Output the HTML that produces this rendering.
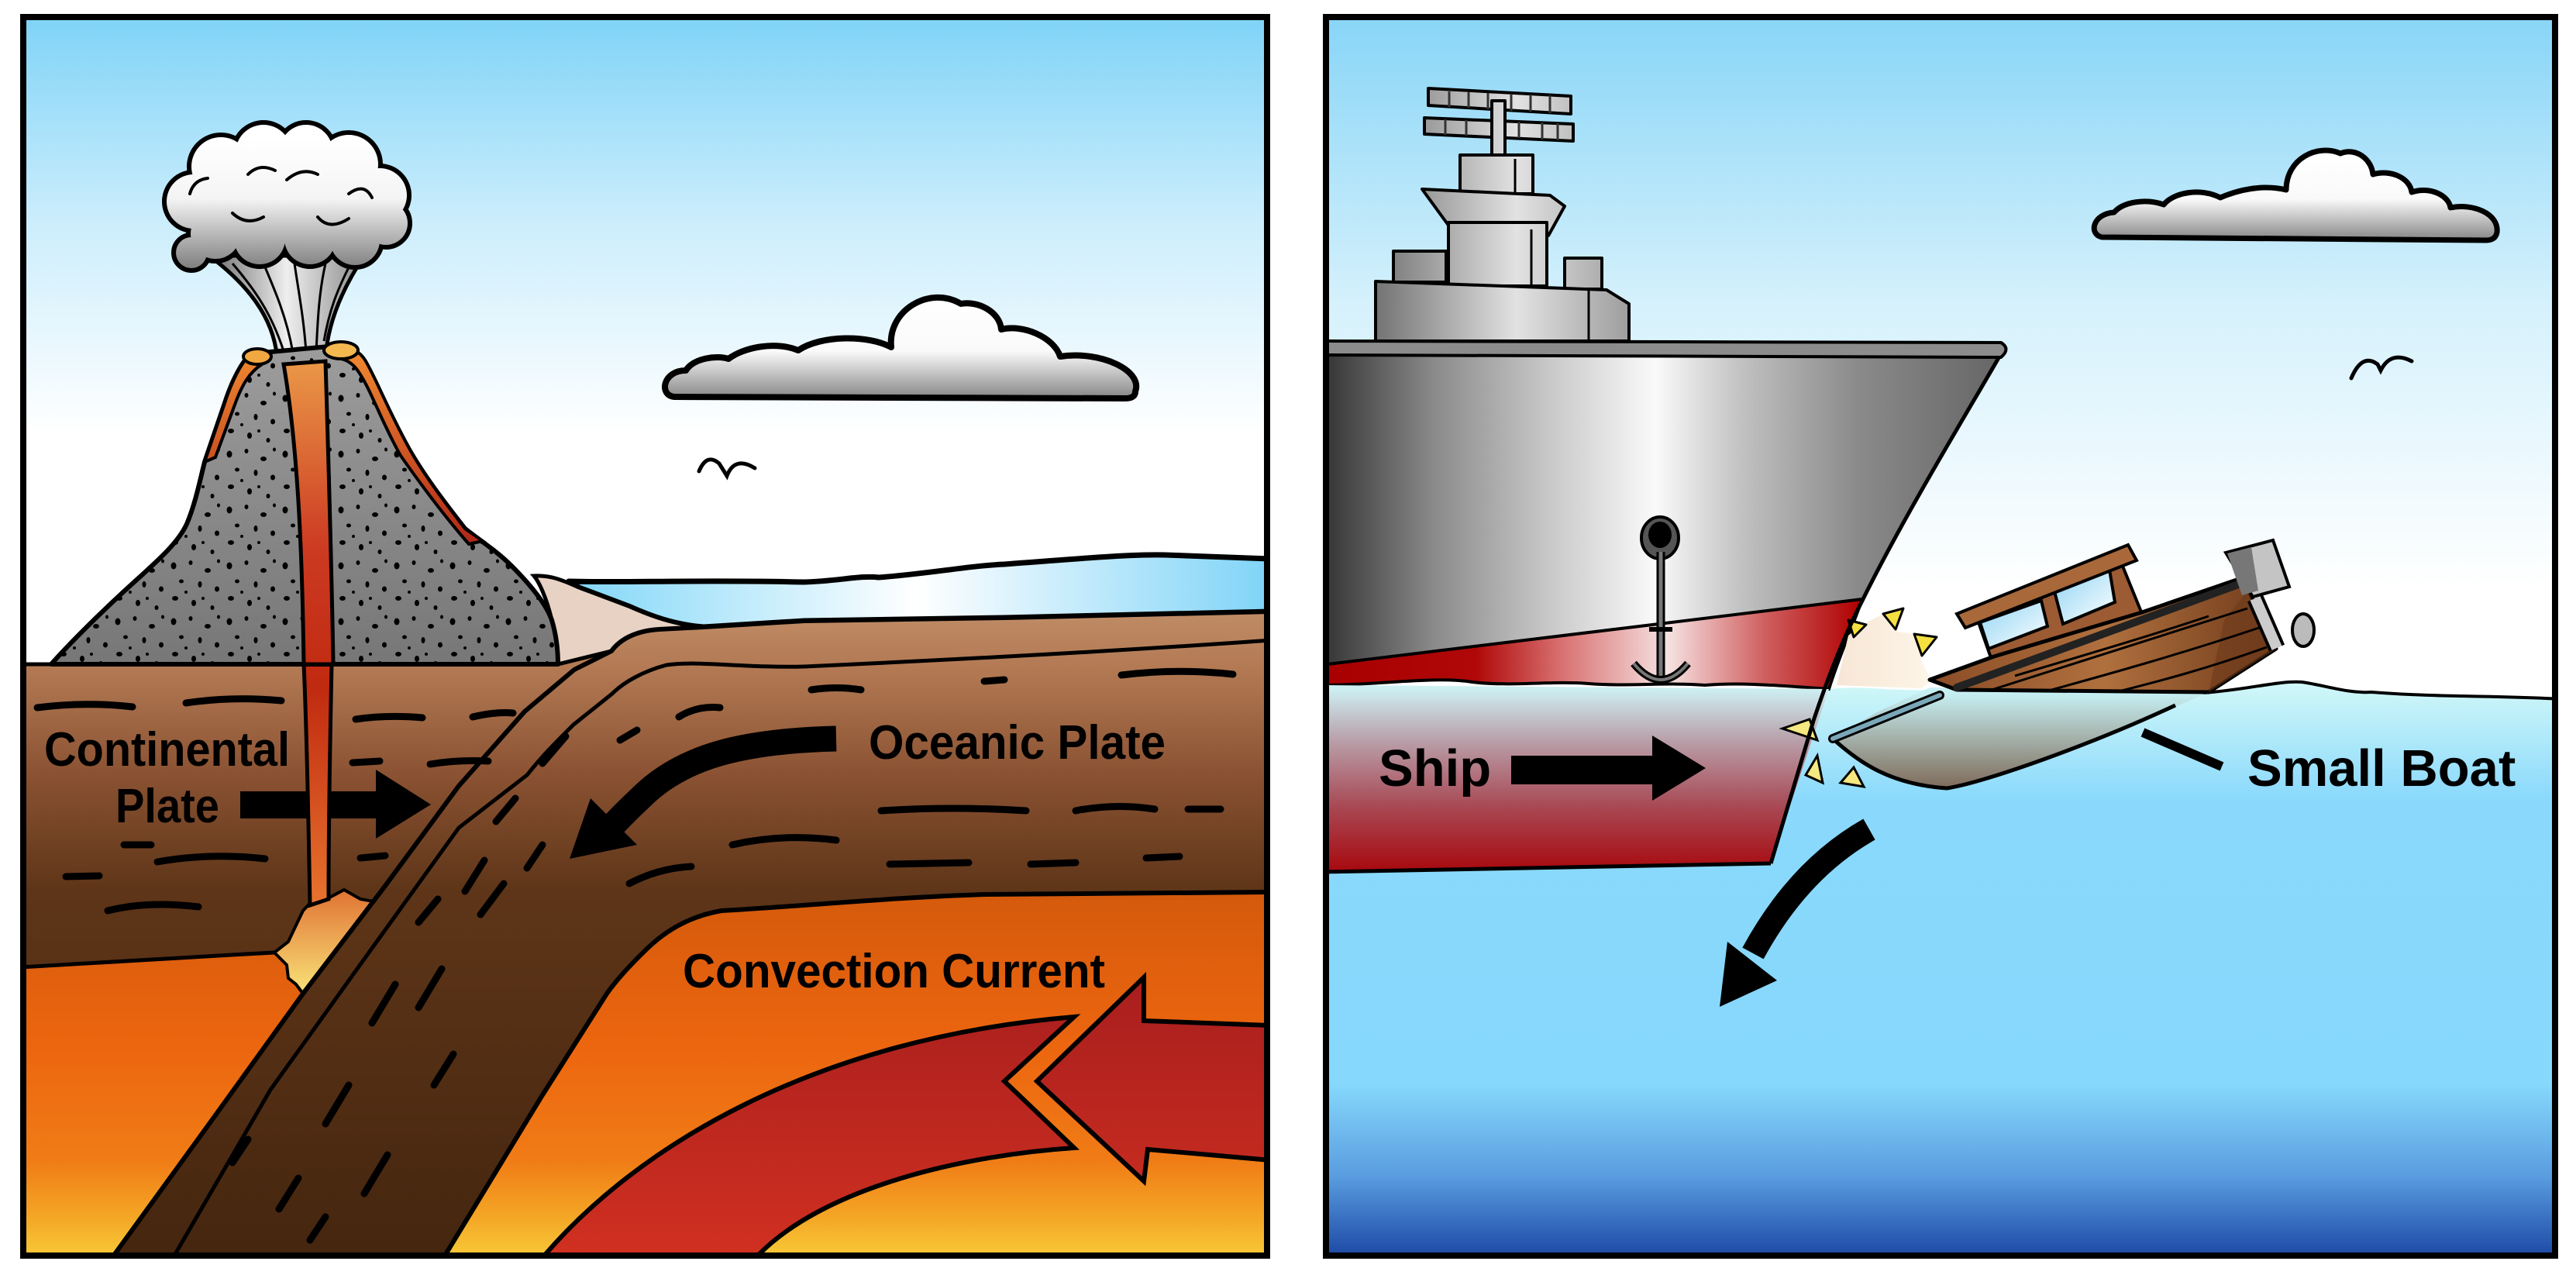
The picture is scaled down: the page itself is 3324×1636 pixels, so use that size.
<!DOCTYPE html>
<html><head><meta charset="utf-8"><style>
html,body{margin:0;padding:0;background:#fff;}
svg{display:block;}
text{font-family:"Liberation Sans",Arial,sans-serif;font-weight:bold;fill:#000;}
</style></head><body>
<svg width="3324" height="1636" viewBox="0 0 3324 1636" xmlns="http://www.w3.org/2000/svg">
<defs>
<clipPath id="cl"><rect x="30" y="22" width="1605" height="1598"/></clipPath>
<clipPath id="cr"><rect x="1711" y="22" width="1586" height="1598"/></clipPath>
<linearGradient id="skyL" gradientUnits="userSpaceOnUse" x1="0" y1="22" x2="0" y2="560"><stop offset="0" stop-color="#7fd3f7"/><stop offset="0.5" stop-color="#cdeefc"/><stop offset="1" stop-color="#fff"/></linearGradient>
<linearGradient id="skyR" gradientUnits="userSpaceOnUse" x1="0" y1="22" x2="0" y2="760"><stop offset="0" stop-color="#88d5f7"/><stop offset="0.5" stop-color="#d5f1fc"/><stop offset="1" stop-color="#fff"/></linearGradient>
<linearGradient id="mantle" gradientUnits="userSpaceOnUse" x1="0" y1="1150" x2="0" y2="1620"><stop offset="0" stop-color="#d45a0c"/><stop offset="0.42" stop-color="#ec650f"/><stop offset="0.74" stop-color="#f07c16"/><stop offset="0.9" stop-color="#f4a826"/><stop offset="1" stop-color="#f8c838"/></linearGradient>
<linearGradient id="crust" gradientUnits="userSpaceOnUse" x1="0" y1="790" x2="0" y2="1620"><stop offset="0" stop-color="#bf8c66"/><stop offset="0.085" stop-color="#b37a54"/><stop offset="0.253" stop-color="#8a5232"/><stop offset="0.434" stop-color="#5e3518"/><stop offset="1" stop-color="#45260f"/></linearGradient>
<linearGradient id="seaL" gradientUnits="userSpaceOnUse" x1="730" y1="0" x2="1635" y2="0"><stop offset="0" stop-color="#7fd6f8"/><stop offset="0.5" stop-color="#ffffff"/><stop offset="1" stop-color="#80d4f8"/></linearGradient>
<linearGradient id="cone" gradientUnits="userSpaceOnUse" x1="0" y1="450" x2="0" y2="857"><stop offset="0" stop-color="#9c9c9c"/><stop offset="1" stop-color="#777"/></linearGradient>
<linearGradient id="lava" gradientUnits="userSpaceOnUse" x1="0" y1="460" x2="0" y2="1170"><stop offset="0" stop-color="#eb9a48"/><stop offset="0.35" stop-color="#cc3a22"/><stop offset="0.6" stop-color="#c02a10"/><stop offset="1" stop-color="#e8742e"/></linearGradient>
<linearGradient id="flow" gradientUnits="userSpaceOnUse" x1="0" y1="450" x2="0" y2="700"><stop offset="0" stop-color="#f08a30"/><stop offset="1" stop-color="#b02818"/></linearGradient>
<linearGradient id="blob" gradientUnits="userSpaceOnUse" x1="0" y1="1150" x2="0" y2="1285"><stop offset="0" stop-color="#e07434"/><stop offset="1" stop-color="#fae67a"/></linearGradient>
<linearGradient id="plume" gradientUnits="userSpaceOnUse" x1="270" y1="0" x2="470" y2="0"><stop offset="0" stop-color="#6a6a6a"/><stop offset="0.5" stop-color="#eeeeee"/><stop offset="1" stop-color="#8a8a8a"/></linearGradient>
<linearGradient id="vcg" gradientUnits="userSpaceOnUse" x1="0" y1="180" x2="0" y2="350"><stop offset="0" stop-color="#fff"/><stop offset="0.45" stop-color="#f4f4f4"/><stop offset="1" stop-color="#7a7a7a"/></linearGradient>
<linearGradient id="cloudL" gradientUnits="userSpaceOnUse" x1="0" y1="380" x2="0" y2="512"><stop offset="0" stop-color="#fff"/><stop offset="0.55" stop-color="#fafafa"/><stop offset="1" stop-color="#8a8a8a"/></linearGradient>
<linearGradient id="cloudR" gradientUnits="userSpaceOnUse" x1="0" y1="194" x2="0" y2="308"><stop offset="0" stop-color="#fff"/><stop offset="0.55" stop-color="#fafafa"/><stop offset="1" stop-color="#8a8a8a"/></linearGradient>
<linearGradient id="conv" gradientUnits="userSpaceOnUse" x1="0" y1="1260" x2="0" y2="1620"><stop offset="0" stop-color="#a81e1e"/><stop offset="1" stop-color="#d03020"/></linearGradient>
<linearGradient id="water" gradientUnits="userSpaceOnUse" x1="0" y1="884" x2="0" y2="1620"><stop offset="0" stop-color="#d0f7f8"/><stop offset="0.2" stop-color="#8ad9fc"/><stop offset="0.7" stop-color="#86d8fc"/><stop offset="0.86" stop-color="#5a9de0"/><stop offset="1" stop-color="#1d4aa6"/></linearGradient>
<linearGradient id="hull" gradientUnits="userSpaceOnUse" x1="1711" y1="0" x2="2580" y2="0"><stop offset="0" stop-color="#363636"/><stop offset="0.16" stop-color="#8a8a8a"/><stop offset="0.33" stop-color="#c8c8c8"/><stop offset="0.49" stop-color="#fafafa"/><stop offset="0.62" stop-color="#c0c0c0"/><stop offset="0.79" stop-color="#8a8a8a"/><stop offset="1" stop-color="#666"/></linearGradient>
<linearGradient id="redband" gradientUnits="userSpaceOnUse" x1="1711" y1="0" x2="2400" y2="0"><stop offset="0" stop-color="#a80000"/><stop offset="0.28" stop-color="#b00808"/><stop offset="0.44" stop-color="#d87070"/><stop offset="0.64" stop-color="#f6e2e2"/><stop offset="0.82" stop-color="#d06060"/><stop offset="1" stop-color="#b00000"/></linearGradient>
<linearGradient id="under" gradientUnits="userSpaceOnUse" x1="0" y1="889" x2="0" y2="1120"><stop offset="0" stop-color="#cdeff2"/><stop offset="0.3" stop-color="#b89ca6"/><stop offset="0.65" stop-color="#a84a55"/><stop offset="1" stop-color="#a80c12"/></linearGradient>
<linearGradient id="sup" gradientUnits="userSpaceOnUse" x1="1770" y1="0" x2="2110" y2="0"><stop offset="0" stop-color="#707070"/><stop offset="0.55" stop-color="#e2e2e2"/><stop offset="1" stop-color="#9a9a9a"/></linearGradient>
<linearGradient id="wood" gradientUnits="userSpaceOnUse" x1="2490" y1="0" x2="2940" y2="0"><stop offset="0" stop-color="#8a4c26"/><stop offset="0.5" stop-color="#b0703e"/><stop offset="1" stop-color="#6e3a1a"/></linearGradient>
<linearGradient id="boatUnder" gradientUnits="userSpaceOnUse" x1="0" y1="895" x2="0" y2="1021"><stop offset="0" stop-color="#c5eef2"/><stop offset="1" stop-color="#7a5a42"/></linearGradient>
<linearGradient id="splash" gradientUnits="userSpaceOnUse" x1="2370" y1="0" x2="2500" y2="0"><stop offset="0" stop-color="#f7e6d6"/><stop offset="1" stop-color="#fdf6e8"/></linearGradient>
<linearGradient id="win" x1="0" y1="0" x2="1" y2="1"><stop offset="0" stop-color="#8fd4f4"/><stop offset="1" stop-color="#ffffff"/></linearGradient>
<pattern id="specks" width="72" height="72" patternUnits="userSpaceOnUse">
<ellipse cx="8" cy="10" rx="3.5" ry="4.5"/><ellipse cx="30" cy="6" rx="2.5" ry="3"/><ellipse cx="52" cy="16" rx="4" ry="3"/><ellipse cx="18" cy="30" rx="3" ry="2.5"/><ellipse cx="42" cy="34" rx="2.5" ry="4"/><ellipse cx="64" cy="40" rx="3" ry="3.5"/><ellipse cx="10" cy="52" rx="4" ry="3"/><ellipse cx="34" cy="58" rx="3" ry="4"/><ellipse cx="58" cy="64" rx="2.5" ry="3"/><ellipse cx="24" cy="44" rx="2" ry="2"/><ellipse cx="66" cy="4" rx="2" ry="2.5"/><ellipse cx="46" cy="52" rx="2" ry="2"/>
</pattern>
<g id="vcloud">
<circle cx="250" cy="260" r="35"/><circle cx="285" cy="215" r="38"/><circle cx="340" cy="197" r="36"/><circle cx="395" cy="195" r="34"/><circle cx="450" cy="212" r="38"/><circle cx="490" cy="252" r="35"/><circle cx="498" cy="288" r="28"/><circle cx="458" cy="310" r="32"/><circle cx="400" cy="308" r="33"/><circle cx="335" cy="308" r="33"/><circle cx="278" cy="302" r="32"/><circle cx="247" cy="326" r="20"/><circle cx="370" cy="250" r="55"/><circle cx="300" cy="260" r="45"/><circle cx="440" cy="260" r="45"/>
</g>
</defs>

<rect width="3324" height="1636" fill="#fff"/>

<!-- ================= LEFT PANEL ================= -->
<g clip-path="url(#cl)">
<rect x="30" y="22" width="1605" height="1598" fill="url(#skyL)"/>
<rect x="30" y="1100" width="1605" height="520" fill="url(#mantle)"/>

<path d="M734,750 C800,752 900,748 1038,751 C1080,750 1110,742 1134,745 C1200,740 1250,730 1296,728 C1380,722 1450,715 1503,716 L1640,721 L1640,789 L1296,797 L1038,801 L908,809 C870,806 840,795 811,782 L747,758 Z" fill="url(#seaL)" stroke="#000" stroke-width="7" stroke-linejoin="round"/>
<path d="M689,743 C710,742 725,748 747,758 L811,782 C840,795 870,806 908,809 L850,814 C820,820 800,830 789,840 L720,857 L712,800 C705,770 695,750 689,743 Z" fill="#e8d2c4" stroke="#000" stroke-width="5"/>

<path d="M25,857 L720,857 L789,840 L741,864 L677,918 L592,1014 L497,1143 L419,1245 L354,1229 L317,1231 L25,1248 Z" fill="url(#crust)"/>
<path d="M25,1248 L317,1231 L354,1229" fill="none" stroke="#000" stroke-width="5"/>
<path d="M25,857 L720,857 L789,840" fill="none" stroke="#000" stroke-width="5"/>

<path d="M391,1175 L405,1160 L425,1158 L444,1148 L465,1160 L487,1164 L470,1190 L455,1207 L420,1250 L391,1282 L382,1270 L372,1262 L370,1245 L354,1229 L372,1215 L380,1198 Z" fill="url(#blob)" stroke="#000" stroke-width="4"/>

<path d="M789,840 C800,825 820,814 850,812 L908,809 L1038,801 L1296,797 L1640,789 L1640,1151 L1270,1154 C1150,1158 1050,1168 931,1175 C890,1182 860,1200 836,1223 C810,1248 795,1265 783,1282 L698,1416 L571,1625 L143,1625 L275,1443 L391,1282 L497,1143 L592,1014 L677,918 L741,864 Z" fill="url(#crust)" stroke="#000" stroke-width="6" stroke-linejoin="round"/>
<path d="M1640,826 C1500,836 1300,848 1038,860 C960,862 900,852 860,858 C830,866 805,880 790,895 L740,935 C715,960 700,975 680,1000 L592,1068 L476,1229 L349,1406 L222,1625" fill="none" stroke="#000" stroke-width="5"/>

<g fill="none" stroke="#000" stroke-width="9" stroke-linecap="round">
<path d="M48,913 Q110,905 171,912"/><path d="M240,907 Q300,898 363,904"/><path d="M459,928 Q500,922 545,926"/><path d="M555,986 Q590,980 630,982"/><path d="M610,925 Q640,918 662,920"/><path d="M85,1131 L128,1130"/><path d="M203,1112 Q270,1100 342,1108"/><path d="M139,1175 Q190,1162 256,1170"/><path d="M465,1107 L497,1104"/><path d="M160,1090 L195,1090"/><path d="M455,984 L490,982"/>
<path d="M1047,890 Q1080,885 1111,890"/><path d="M1270,879 L1296,877"/><path d="M1447,871 Q1520,862 1591,870"/><path d="M876,925 Q900,910 929,913"/><path d="M800,955 L822,942"/><path d="M1137,1046 Q1230,1040 1324,1046"/><path d="M1388,1046 Q1440,1036 1490,1044"/><path d="M1533,1044 L1575,1044"/><path d="M945,1090 Q1010,1075 1079,1084"/><path d="M1148,1115 L1250,1113"/><path d="M1330,1115 L1388,1113"/><path d="M1479,1107 L1522,1105"/><path d="M812,1140 Q850,1120 892,1118"/>
<path d="M640,1060 L665,1030"/><path d="M600,1150 L625,1110"/><path d="M700,985 L730,950"/><path d="M540,1190 L565,1160"/><path d="M480,1320 L510,1270"/><path d="M420,1450 L450,1400"/><path d="M540,1300 L570,1250"/><path d="M620,1180 L650,1140"/><path d="M360,1560 L385,1520"/><path d="M470,1540 L500,1490"/><path d="M300,1500 L320,1470"/><path d="M680,1120 L700,1090"/><path d="M560,1400 L585,1360"/><path d="M400,1600 L420,1570"/>
</g>

<!-- convection arrow -->
<path d="M698,1625 C820,1480 1050,1340 1386,1312 L1296,1395 L1386,1481 C1250,1490 1060,1530 973,1625 Z" fill="url(#conv)" stroke="#000" stroke-width="6" stroke-linejoin="miter"/>
<path d="M1338,1395 L1476,1261 L1476,1317 L1640,1323 L1640,1497 L1481,1483 L1476,1524 Z" fill="url(#conv)" stroke="#000" stroke-width="6" stroke-linejoin="miter"/>

<rect x="310" y="1021" width="177" height="35" fill="#000"/>
<path d="M485,993 L556,1038 L485,1082 Z" fill="#000"/>

<path d="M392,857 L428,857 C426,950 424,1060 424,1160 L400,1168 C398,1060 396,950 392,857 Z" fill="url(#lava)" stroke="#000" stroke-width="5"/>

<path d="M1079,953 C960,956 880,975 826,1030 C810,1045 800,1055 790,1066" fill="none" stroke="#000" stroke-width="33"/>
<path d="M735,1108 L762,1030 L822,1090 Z" fill="#000"/>

<!-- volcano -->
<path d="M358,468 C356,420 330,375 270,330 L470,330 C440,375 422,420 420,464 Z" fill="url(#plume)" stroke="#000" stroke-width="5"/>
<g fill="none" stroke="#000" stroke-width="3">
<path d="M300,340 C330,375 350,405 365,450"/><path d="M340,340 C355,375 370,410 378,455"/><path d="M380,340 C385,375 392,410 395,455"/><path d="M420,340 C412,375 410,410 408,455"/><path d="M450,345 C435,375 425,400 418,440"/>
</g>
<use href="#vcloud" fill="#000" stroke="#000" stroke-width="12"/>
<use href="#vcloud" fill="url(#vcg)" stroke="none"/>
<g fill="none" stroke="#000" stroke-width="4" stroke-linecap="round">
<path d="M245,250 Q250,232 268,230"/><path d="M320,225 Q335,210 355,220"/><path d="M370,232 Q390,215 410,225"/><path d="M450,250 Q470,235 480,255"/><path d="M300,275 Q318,292 340,280"/><path d="M410,280 Q425,298 450,282"/>
</g>
<path d="M66,857 C90,830 130,790 172,752 C205,722 230,700 241,676 C252,650 258,620 264,596 L290,520 C298,495 310,470 322,458 L338,455 L425,447 C445,445 462,452 470,465 C485,490 500,530 528,580 C548,615 575,650 600,682 C620,698 640,710 660,730 C685,755 705,780 712,800 C718,820 720,840 720,857 Z" fill="url(#cone)"/>
<path d="M66,857 C90,830 130,790 172,752 C205,722 230,700 241,676 C252,650 258,620 264,596 L290,520 C298,495 310,470 322,458 L338,455 L425,447 C445,445 462,452 470,465 C485,490 500,530 528,580 C548,615 575,650 600,682 C620,698 640,710 660,730 C685,755 705,780 712,800 C718,820 720,840 720,857 Z" fill="url(#specks)" stroke="#000" stroke-width="6" stroke-linejoin="round"/>
<path d="M322,458 C310,470 298,495 290,520 L264,596 L278,590 L303,522 C312,497 322,480 338,470 Z" fill="url(#flow)" stroke="#000" stroke-width="4"/>
<path d="M430,448 C450,446 464,452 472,466 C487,492 502,532 530,582 C550,617 577,652 600,682 L623,698 L605,702 C575,668 548,632 517,588 C490,540 478,500 460,476 C452,466 442,462 432,462 Z" fill="url(#flow)" stroke="#000" stroke-width="4"/>
<ellipse cx="332" cy="460" rx="18" ry="10" fill="#f2a840" stroke="#000" stroke-width="4"/>
<ellipse cx="440" cy="452" rx="22" ry="11" fill="#f4b850" stroke="#000" stroke-width="4"/>
<path d="M366,470 L420,466 C424,600 428,730 430,857 L392,857 C390,720 385,580 366,470 Z" fill="url(#lava)" stroke="#000" stroke-width="5"/>

<text x="57" y="988" font-size="62" textLength="317" lengthAdjust="spacingAndGlyphs">Continental</text>
<text x="149" y="1061" font-size="62" textLength="134" lengthAdjust="spacingAndGlyphs">Plate</text>
<text x="1121" y="979" font-size="62" textLength="383" lengthAdjust="spacingAndGlyphs">Oceanic Plate</text>
<text x="881" y="1274" font-size="62" textLength="545" lengthAdjust="spacingAndGlyphs">Convection Current</text>

<path d="M870,512 C850,510 855,478 885,478 C895,462 925,458 940,463 C960,448 1000,440 1030,452 C1060,432 1120,432 1150,448 C1145,400 1200,368 1240,392 C1262,388 1290,402 1292,425 C1320,418 1360,435 1368,460 C1420,452 1475,478 1465,505 Q1465,514 1452,514 Z" fill="url(#cloudL)" stroke="#000" stroke-width="8" stroke-linejoin="round"/>
<path d="M902,608 Q912,584 928,598 L938,614 Q948,588 974,604" fill="none" stroke="#000" stroke-width="5" stroke-linecap="round"/>
</g>
<rect x="30" y="22" width="1605" height="1598" fill="none" stroke="#000" stroke-width="8"/>

<!-- ================= RIGHT PANEL ================= -->
<g clip-path="url(#cr)">
<rect x="1711" y="22" width="1586" height="1598" fill="url(#skyR)"/>
<path d="M2712,306 C2695,302 2700,276 2728,274 C2740,260 2770,256 2792,264 C2805,248 2840,242 2865,255 C2900,240 2930,240 2950,245 C2950,205 2990,185 3020,198 C3040,190 3060,205 3062,225 C3085,218 3110,230 3112,248 C3135,240 3160,252 3162,268 C3190,262 3225,275 3222,300 Q3220,310 3208,310 Z" fill="url(#cloudR)" stroke="#000" stroke-width="7" stroke-linejoin="round"/>
<path d="M3034,488 Q3048,455 3068,470 L3072,478 Q3085,452 3112,466" fill="none" stroke="#000" stroke-width="5" stroke-linecap="round"/>

<path d="M1705,884 L2360,889 C2400,884 2440,892 2490,890 L2842,894 C2900,890 2940,878 2970,880 C3000,884 3030,895 3060,893 C3150,900 3220,897 3305,902 L3305,1625 L1705,1625 Z" fill="url(#water)"/>
<path d="M2842,894 C2900,890 2940,878 2970,880 C3000,884 3030,895 3060,893 C3150,900 3220,897 3305,902" fill="none" stroke="#000" stroke-width="4"/>

<g stroke="#000" stroke-width="4" fill="url(#sup)" stroke-linejoin="round">
<path d="M1843,114 L2027,124 L2027,147 L1843,136 Z"/>
<path d="M1838,152 L2030,160 L2030,182 L1838,173 Z"/>
<rect x="1925" y="130" width="17" height="72"/>
<rect x="1884" y="200" width="94" height="50"/>
<path d="M1835,244 L2000,252 L2019,266 L1998,304 L1870,292 Z"/>
<rect x="1869" y="287" width="127" height="82"/>
<rect x="1798" y="324" width="68" height="40"/>
<rect x="2019" y="333" width="48" height="40"/>
<path d="M1775,363 L2073,374 L2102,392 L2102,440 L1775,440 Z"/>
</g>
<g stroke="#333" stroke-width="3">
<path d="M1870,118 L1870,138 M1895,119 L1895,139 M1920,120 L1920,141 M1950,121 L1950,143 M1975,122 L1975,144 M2000,123 L2000,146"/>
<path d="M1865,154 L1865,174 M1892,155 L1892,175 M1960,157 L1960,178 M1990,158 L1990,180 M2010,159 L2010,181"/>
</g>
<path d="M1955,205 L1955,249 M1976,296 L1976,369 M2050,373 L2050,440" stroke="#000" stroke-width="3" fill="none"/>

<path d="M1705,452 L2580,456 C2560,500 2510,580 2486,620 C2450,690 2420,740 2403,773 L1705,858 Z" fill="url(#hull)"/>
<path d="M1705,858 L2403,773 C2390,810 2372,850 2360,889 C2300,885 2250,880 2200,884 C2150,880 2100,886 2050,882 C2000,878 1950,886 1900,880 C1850,872 1780,884 1705,884 Z" fill="url(#redband)" stroke="#000" stroke-width="4"/>
<path d="M1705,884 L2360,889 L2285,1114 L1705,1125 Z" fill="url(#under)"/>
<path d="M1705,1125 L2285,1114" stroke="#000" stroke-width="5" fill="none"/>

<!-- splash -->
<path d="M2370,884 L2385,820 L2405,805 L2430,792 L2456,785 L2448,815 L2470,818 L2499,822 L2478,850 L2492,878 L2480,888 Z" fill="url(#splash)"/>
<path d="M2430,792 L2456,785 L2446,812 Z M2470,818 L2499,822 L2480,846 Z M2385,800 L2408,806 L2392,822 Z" fill="#f4e040" stroke="#000" stroke-width="3" stroke-linejoin="round"/>
<path d="M2300,940 L2335,928 L2345,955 Z M2330,1000 L2345,975 L2352,1010 Z M2375,1010 L2392,990 L2405,1015 Z" fill="#f4e880" stroke="#000" stroke-width="3"/>

<path d="M2584,453 C2540,530 2460,660 2403,775 C2380,820 2360,870 2340,930 L2285,1114" fill="none" stroke="#000" stroke-width="5"/>
<path d="M1705,440 L2582,442 Q2595,450 2582,461 L1705,458 Z" fill="#8c8c8c" stroke="#000" stroke-width="4"/>

<!-- anchor -->
<ellipse cx="2142" cy="694" rx="24" ry="27" fill="#555" stroke="#000" stroke-width="4"/>
<ellipse cx="2142" cy="690" rx="15" ry="17" fill="#000"/>
<path d="M2143,712 L2143,878" stroke="#000" stroke-width="11" fill="none"/>
<path d="M2143,712 L2143,878" stroke="#777" stroke-width="5" fill="none"/>
<path d="M2108,856 Q2143,898 2178,856" fill="none" stroke="#000" stroke-width="10"/>
<path d="M2108,856 Q2143,898 2178,856" fill="none" stroke="#777" stroke-width="4"/>
<path d="M2128,812 L2158,812" stroke="#000" stroke-width="6"/>

<!-- small boat -->
<path d="M2365,953 C2400,985 2440,1012 2512,1017 C2560,1010 2700,960 2850,893 L2490,887 L2420,920 Z" fill="url(#boatUnder)" opacity="0.9"/>
<path d="M2365,953 C2400,985 2440,1012 2512,1017 C2560,1010 2700,960 2807,910" fill="none" stroke="#000" stroke-width="5"/>
<path d="M2365,953 L2503,897" stroke="#000" stroke-width="12" stroke-linecap="round"/>
<path d="M2365,953 L2503,897" stroke="#7aa8b8" stroke-width="6" stroke-linecap="round"/>

<path d="M2553,803 L2738,728 L2764,792 L2573,860 Z" fill="#9c5b33" stroke="#000" stroke-width="4"/>
<path d="M2555,803 L2634,775 L2642,808 L2566,837 Z" fill="url(#win)" stroke="#000" stroke-width="4"/>
<path d="M2651,763 L2722,735 L2729,777 L2662,805 Z" fill="url(#win)" stroke="#000" stroke-width="4"/>
<path d="M2525,792 L2746,703 L2757,723 L2536,810 Z" fill="#a8683a" stroke="#000" stroke-width="4"/>
<path d="M2490,877 L2573,847 L2764,790 L2889,747 L2902,763 L2937,837 L2850,893 L2525,890 Z" fill="url(#wood)" stroke="#000" stroke-width="5" stroke-linejoin="round"/>
<path d="M2900,762 L2937,837 L2850,893 L2870,800 Z" fill="#6e3a1a" opacity="0.6"/>
<path d="M2525,887 L2902,749" stroke="#222" stroke-width="10" stroke-linecap="round"/>
<g fill="none" stroke="#000" stroke-width="3">
<path d="M2570,890 C2650,865 2760,830 2900,785"/><path d="M2640,892 C2720,870 2810,845 2915,810"/><path d="M2730,893 C2790,878 2850,862 2925,835"/><path d="M2600,872 C2680,848 2760,825 2850,795"/>
</g>
<path d="M2872,713 L2933,697 L2954,757 L2907,770 Z" fill="#c4c4c4" stroke="#000" stroke-width="4"/>
<path d="M2874,714 L2905,706 L2914,762 L2893,768 Z" fill="#777"/>
<path d="M2910,772 L2938,836" stroke="#000" stroke-width="22"/>
<path d="M2910,772 L2938,836" stroke="#ccc" stroke-width="14"/>
<ellipse cx="2972" cy="813" rx="14" ry="21" fill="#bbb" stroke="#000" stroke-width="4"/>

<text x="1779" y="1014" font-size="67">Ship</text>
<rect x="1950" y="975" width="184" height="37" fill="#000"/>
<path d="M2132,949 L2201,991 L2132,1033 Z" fill="#000"/>
<text x="2900" y="1014" font-size="67">Small Boat</text>
<path d="M2765,945 L2867,989" stroke="#000" stroke-width="12"/>
<path d="M2412,1070 C2350,1105 2300,1160 2262,1230" fill="none" stroke="#000" stroke-width="31"/>
<path d="M2219,1299 L2229,1215 L2293,1265 Z" fill="#000"/>
</g>
<rect x="1711" y="22" width="1586" height="1598" fill="none" stroke="#000" stroke-width="8"/>
</svg>
</body></html>
